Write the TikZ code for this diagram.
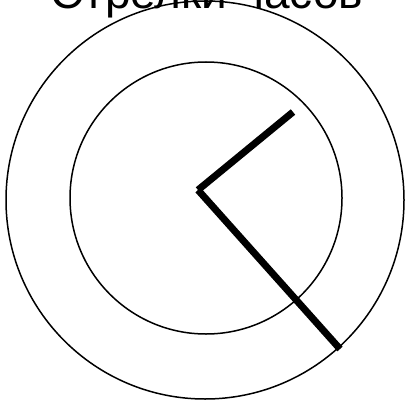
\documentclass[tikz,border=0pt]{standalone}
\usepackage{fontspec}
\setmainfont{Liberation Sans}
\usetikzlibrary{positioning}

\begin{document}
\begin{tikzpicture}[x=1pt, y=-1pt, >=stealth]
\useasboundingbox (0,0) rectangle (406,401);
\node[anchor=base, font=\fontsize{46}{46}\selectfont] (title) at (207,9) {Стрелки часов};
\node[draw, circle, line width=1.5pt, inner sep=0pt, minimum size=398pt] (dial) at (205,200) {};
\node[draw, circle, line width=1.5pt, inner sep=0pt, minimum size=272pt] (face) at (206,198) {};
\coordinate (pivot) at (198,190);
\coordinate (hourtip) at (293,112);
\coordinate (minutetip) at (340,349);
\draw[line width=7pt] (pivot) -- (hourtip);
\draw[line width=7pt] (pivot) -- (minutetip);
\end{tikzpicture}
\end{document}
